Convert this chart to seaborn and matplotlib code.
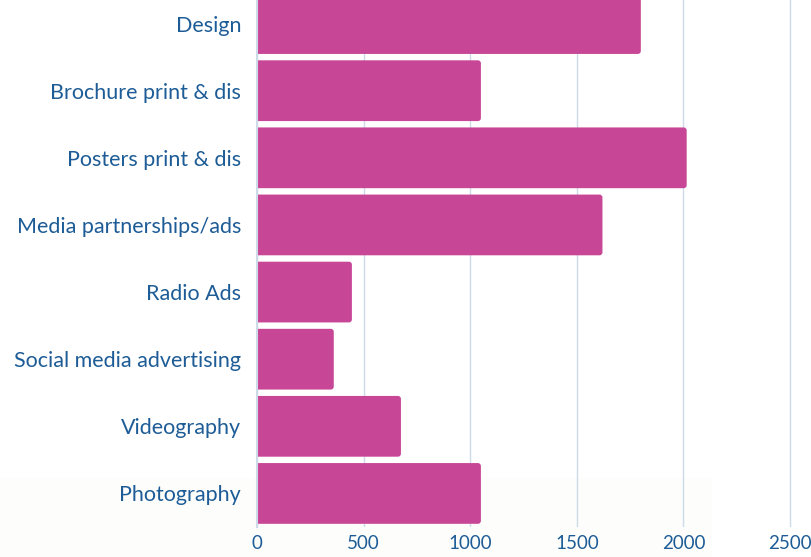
import matplotlib
matplotlib.use("Agg")
import matplotlib.pyplot as plt
import seaborn as sns
import pandas as pd
from matplotlib.patches import FancyBboxPatch

categories = ["Design", "Brochure print & dis", "Posters print & dis",
              "Media partnerships/ads", "Radio Ads", "Social media advertising",
              "Videography", "Photography"]
values = [1800, 1050, 2015, 1620, 445, 360, 675, 1050]
xticks = [0, 500, 1000, 1500, 2000, 2500]

df = pd.DataFrame({"category": categories, "value": values})

sns.set_theme(style="white")
plt.rcParams["font.family"] = ["Lato", "DejaVu Sans"]

text_color = "#1D5C96"
bar_color = "#C84696"
grid_color = "#CCDBE7"

fig = plt.figure(figsize=(8.11, 5.57), dpi=100)
fig.patch.set_facecolor("white")

# very faint backdrop in lower-left (background axes)
bg = fig.add_axes([0, 0, 712 / 811, 79 / 557], zorder=-5)
bg.set_facecolor("#FDFDFC")
bg.set_xticks([]); bg.set_yticks([])
for s in bg.spines.values():
    s.set_visible(False)

ax = fig.add_axes([257 / 811, 30 / 557, 554 / 811, 537 / 557])
ax.set_facecolor("none")

sns.barplot(data=df, x="value", y="category", orient="h", color=bar_color,
            saturation=1, width=0.905, ax=ax, zorder=3)

ax.set_xlim(0, 2598)
ax.set_ylim(7.5, -0.5)

# rounded right corners
px_x = 2598 / 554.0
px_y = 8.0 / 537.0
for p in list(ax.patches):
    x0, y0, w, h = p.get_x(), p.get_y(), p.get_width(), p.get_height()
    fb = FancyBboxPatch((x0 - 40, y0), w + 40, h,
                        boxstyle=f"round,pad=0,rounding_size={3 * px_x}",
                        mutation_aspect=px_y / px_x,
                        facecolor=bar_color, edgecolor="none", zorder=3)
    p.remove()
    ax.add_patch(fb)

ax.set_xticks(xticks)
ax.set_xticklabels([str(t) for t in xticks])
ax.xaxis.grid(True, color=grid_color, linewidth=1.0, zorder=0)
ax.yaxis.grid(False)
ax.set_axisbelow(True)
for s in ["top", "right", "bottom"]:
    ax.spines[s].set_visible(False)
ax.spines["left"].set_color(grid_color)
ax.spines["left"].set_linewidth(1.5)
ax.spines["left"].set_zorder(4)

ax.set_xlabel("")
ax.set_ylabel("")
ax.tick_params(axis="both", length=0, colors=text_color)
ax.tick_params(axis="y", pad=11.5, labelsize=15.5)
ax.tick_params(axis="x", pad=6, labelsize=13.5)

fig.savefig("out.png", dpi=100)
